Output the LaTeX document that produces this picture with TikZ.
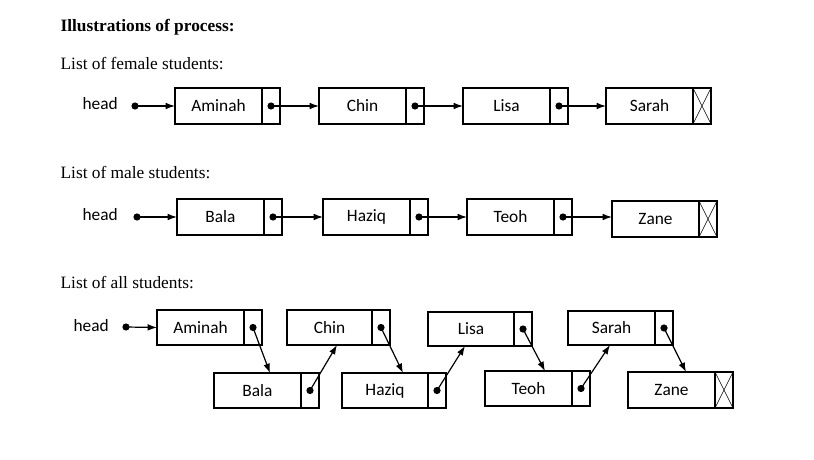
\documentclass[tikz,border=0pt]{standalone}
\usepackage{fontspec}
\setmainfont{Liberation Serif}
\newfontfamily\sans{Carlito}
\usetikzlibrary{arrows.meta}
\newcommand\lbox[7]{% name, left, top, divider, right, bottom, text
  \node[cell,minimum width={(#4-#2)*0.75pt},minimum height={(#6-#3)*0.75pt}] (#1) at ({(#2+#4)/2},{(#3+#6)/2}) {\sans #7};
  \node[cell,minimum width={(#5-#4)*0.75pt},minimum height={(#6-#3)*0.75pt}] (#1p) at ({(#4+#5)/2},{(#3+#6)/2}) {};
}
\newcommand\ldot[1]{\fill (#1p.center) circle (3.6);}
\newcommand\lnull[1]{\draw[thin] (#1p.north west)--(#1p.south east) (#1p.north east)--(#1p.south west);}
\begin{document}
\begin{tikzpicture}[x=0.75pt,y=-0.75pt,line width=0.9pt,
  cell/.style={draw,rectangle,inner sep=0pt,outer sep=0pt,font=\fontsize{13}{15}\selectfont},
  arr/.style={-{Latex[length=7pt,width=5pt]}},
  lab/.style={anchor=west,inner sep=0pt,font=\fontsize{13}{15}\selectfont}]
\useasboundingbox (0,0) rectangle (814,460);
\node[lab,font=\fontsize{13}{15}\selectfont\bfseries] (t) at (60,27) {Illustrations of process:};
\node[lab] (l1) at (60,64) {List of female students:};
\node[lab] (l2) at (60,173) {List of male students:};
\node[lab] (l3) at (60,283) {List of all students:};
% row 1
\node[lab,font=\fontsize{13}{15}\selectfont\sans] (h1) at (82,104) {head};
\coordinate (d1) at (135,106);
\lbox{a1}{175}{88}{262}{280}{124}{Aminah}
\lbox{c1}{319}{88}{406}{424}{124}{Chin}
\lbox{li1}{463}{88}{550}{568}{124}{Lisa}
\lbox{s1}{606}{88}{693}{711}{124}{Sarah}
\fill (d1) circle (3.6);
\draw[arr] (d1) -- (a1.west);
\ldot{a1}\ldot{c1}\ldot{li1}\lnull{s1}
\draw[arr] (a1p.center) -- (c1.west);
\draw[arr] (c1p.center) -- (li1.west);
\draw[arr] (li1p.center) -- (s1.west);
% row 2
\node[lab,font=\fontsize{13}{15}\selectfont\sans] (h2) at (82,215) {head};
\coordinate (d2) at (137,217);
\lbox{b2}{177}{199}{264}{282}{235}{Bala}
\lbox{hz2}{323}{199}{410}{428}{235}{Haziq}
\lbox{te2}{467}{199}{554}{572}{235}{Teoh}
\lbox{z2}{612}{201}{699}{717}{237}{Zane}
\fill (d2) circle (3.6);
\draw[arr] (d2) -- (b2.west);
\ldot{b2}\ldot{hz2}\ldot{te2}\lnull{z2}
\draw[arr] (b2p.center) -- (hz2.west);
\draw[arr] (hz2p.center) -- (te2.west|-hz2p.center);
\draw[arr] (te2p.center) -- (z2.west|-te2p.center);
% row 3
\node[lab,font=\fontsize{13}{15}\selectfont\sans] (h3) at (73,326) {head};
\coordinate (d3) at (126,327);
\lbox{a3}{157}{310}{244}{262}{345}{Aminah}
\lbox{c3}{287}{310}{372}{390}{345}{Chin}
\lbox{li3}{428}{312}{514}{532}{346}{Lisa}
\lbox{s3}{568}{311}{655}{673}{345}{Sarah}
\lbox{b3}{214}{373}{301}{319}{408}{Bala}
\lbox{hz3}{342}{373}{428}{446}{408}{Haziq}
\lbox{te3}{485}{371}{572}{590}{406}{Teoh}
\lbox{z3}{628}{372}{715}{733}{408}{Zane}
\fill (d3) circle (3.6);
\draw[arr] (d3) -- (a3.west);
\ldot{a3}\ldot{c3}\ldot{li3}\ldot{s3}\ldot{b3}\ldot{hz3}\ldot{te3}\lnull{z3}
\draw[arr] (a3p.center) -- (b3.north-|270,0);
\draw[arr] (b3p.center) -- (c3.south-|337,0);
\draw[arr] (c3p.center) -- (hz3.north-|403,0);
\draw[arr] (hz3p.center) -- (li3.south-|465,0);
\draw[arr] (li3p.center) -- (te3.north-|545,0);
\draw[arr] (te3p.center) -- (s3.south-|610,0);
\draw[arr] (s3p.center) -- (z3.north-|686,0);
\end{tikzpicture}
\end{document}
